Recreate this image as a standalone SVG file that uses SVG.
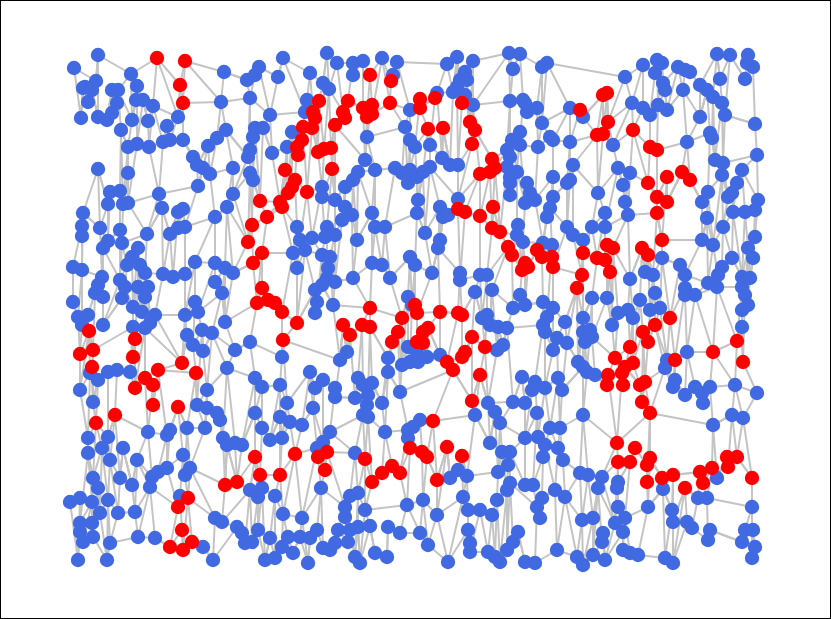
<svg xmlns="http://www.w3.org/2000/svg" width="831" height="619" viewBox="0 0 831 619">
<style>
.e{fill:none;stroke:#c4c4c4;stroke-width:2;stroke-linejoin:round}
circle{r:7.2px}
.b circle{fill:#4169e1}
.r circle{fill:#ff0000}
</style>
<rect x="0.5" y="0.5" width="830" height="618" fill="#fff" stroke="#000"/>
<g id="edges">
<path class="e" d="M74 68 81 118 83 88 85 87 88 102 92 90 96 81 98 55 98 117 107 120 112 90 112 113 117 103 118 90 131 74 132 120 136 100 137 86 143 100 148 121 153 106 157 58 178 117 180 85 183 103 185 61 221 102 224 72 247 80 250 98 255 75 259 67 270 115 278 77 283 58 305 112 307 100 310 73 313 112 315 118 319 101 323 83 327 53 329 89 337 63 343 112 345 118 348 101 353 63 353 75 363 61 363 108 367 117 370 75 372 105 372 114 382 58 390 103 391 81 393 75 397 62 410 110 420 99 420 108 435 98 437 93 447 64 453 92 457 57 457 87 460 80 462 103 465 72 465 95 467 80 470 122 473 61 473 105 509 53 510 101 513 69 520 54 523 100 525 103 527 112 537 108 542 67 542 123 547 63 570 108 580 110 583 117 603 95 607 93 608 122 625 77 632 103 643 65 643 108 650 115 655 73 657 60 658 105 662 63 663 83 665 90 667 110 678 67 683 90 685 70 690 72 700 85 700 117 707 90 713 97 717 54 720 79 722 103 725 115 730 55 745 79 747 63 748 55 753 67 755 124"/>
<path class="e" d="M81 118 83 88 85 87 88 102 92 90 98 117 107 120 112 90 112 113 117 103 118 90 121 130 128 147 132 120 136 100 137 86 137 144 143 100 148 121 149 147 153 106 163 142 167 126 170 140 178 117 183 103 183 140 193 157 197 165 208 146 217 138 221 102 226 130 248 157 250 98 250 150 253 137 255 128 263 128 270 115 272 153 287 147 292 132 297 147 298 155 302 140 303 127 305 112 307 100 312 128 313 112 315 118 318 152 319 101 324 149 329 89 331 148 335 125 343 112 345 118 348 101 363 108 365 160 367 117 367 137 372 105 372 114 390 103 405 127 410 110 410 140 415 147 420 99 420 108 428 129 430 145 435 98 437 93 442 158 443 128 450 165 453 92 457 87 458 165 462 103 465 95 470 122 472 144 473 105 475 130 492 159 507 150 510 101 510 157 512 140 520 132 520 145 523 100 525 103 527 112 537 108 538 147 542 123 550 137 553 140 570 108 570 142 580 110 583 117 597 135 603 95 603 134 607 93 608 122 613 145 632 103 633 130 643 108 650 115 650 147 657 150 658 105 665 90 667 110 683 90 687 142 700 117 707 90 710 133 712 138 713 97 715 160 722 103 723 163 725 115 755 124 757 155"/>
<path class="e" d="M98 169 108 204 110 192 120 191 121 130 123 204 128 147 128 173 128 203 137 144 149 147 159 194 163 142 167 126 170 140 183 140 193 157 197 165 198 186 203 168 208 146 210 174 217 138 226 130 233 168 233 194 248 157 250 150 250 173 253 137 253 180 255 128 260 201 263 128 272 153 280 202 285 170 287 147 288 193 292 132 292 187 295 180 297 147 298 155 302 140 303 127 307 192 312 128 318 152 322 187 322 197 324 149 331 148 332 169 335 125 335 200 345 187 353 180 358 172 365 160 367 137 375 170 395 168 402 173 405 127 408 183 410 140 410 170 415 147 417 177 418 200 423 172 428 129 430 145 430 167 442 158 443 128 450 165 458 165 458 199 472 144 475 130 480 174 490 172 492 159 495 168 507 150 507 167 510 157 510 177 510 183 510 195 512 140 517 172 520 132 520 145 525 203 527 183 530 193 535 200 538 147 550 137 553 140 553 177 553 197 567 183 570 142 570 180 573 165 597 135 598 193 603 134 613 145 618 168 623 185 625 202 630 173 633 130 648 183 650 147 657 150 657 197 667 177 667 202 682 172 687 142 690 180 702 202 708 192 710 133 712 138 715 160 722 175 723 163 728 197 732 193 737 183 742 170 757 155 758 200"/>
<path class="e" d="M82 226 82 236 83 213 98 169 100 228 108 204 108 241 110 192 120 191 120 230 122 243 123 204 128 173 128 203 147 234 159 194 162 208 170 234 178 212 178 228 183 209 185 227 198 186 203 168 210 174 215 217 227 207 233 168 233 194 248 242 250 173 252 225 253 180 260 201 267 217 280 202 282 207 285 170 288 193 292 187 295 180 297 227 300 240 307 192 312 238 322 187 322 197 325 237 327 227 332 169 335 200 335 235 342 220 345 187 345 207 352 215 353 180 357 240 358 172 372 213 375 170 375 227 385 227 395 168 402 173 408 183 410 170 417 177 417 213 418 200 423 172 425 233 430 167 440 207 440 240 443 217 448 215 458 199 458 209 465 212 480 174 480 216 490 172 492 228 493 207 495 168 500 232 507 167 510 177 510 183 510 195 517 172 517 235 518 225 523 242 525 203 527 183 530 193 535 200 543 243 547 217 550 208 553 177 553 197 567 183 567 227 570 180 573 165 573 235 583 240 592 227 598 193 605 213 605 227 618 168 623 185 625 202 628 215 630 173 648 183 657 197 657 213 662 240 667 177 667 202 682 172 690 180 702 202 702 240 707 218 708 192 713 245 722 175 723 227 728 197 732 193 733 212 737 183 742 170 745 212 755 210 755 237 758 200"/>
<path class="e" d="M73 267 82 226 82 236 82 270 83 213 100 228 102 277 103 248 108 241 120 230 120 280 122 243 127 265 132 257 138 248 140 265 145 273 147 234 162 208 163 274 170 234 173 277 178 212 178 228 183 209 185 227 185 274 195 262 215 217 215 263 215 282 225 268 227 207 233 273 248 242 252 225 253 263 262 253 267 217 282 207 293 253 297 227 297 268 300 240 305 250 312 238 322 255 325 237 327 227 327 278 328 268 330 257 335 235 335 282 342 220 345 207 352 215 353 278 357 240 372 213 372 263 375 227 382 265 385 227 390 278 410 257 415 265 417 213 425 233 432 273 438 248 440 207 440 240 443 217 448 215 458 209 460 273 460 280 465 212 480 216 480 275 487 275 492 228 493 207 500 232 508 247 512 255 517 235 518 225 522 270 523 242 525 263 528 267 537 250 542 257 543 243 547 217 550 208 552 245 552 257 553 267 567 227 573 235 582 275 583 240 583 253 592 227 597 258 605 213 605 227 605 260 607 245 610 272 613 248 628 215 630 279 642 248 645 272 648 255 653 275 657 213 662 240 662 258 680 265 685 275 702 240 707 218 708 283 713 245 718 275 722 267 723 227 732 258 733 212 742 277 745 212 748 248 750 278 753 258 755 210 755 237"/>
<path class="e" d="M73 267 73 302 78 317 82 270 82 325 88 315 95 293 98 285 102 277 103 248 103 297 103 325 120 280 122 298 125 287 127 265 132 257 133 307 138 248 138 287 140 265 142 312 145 273 145 297 148 287 150 323 155 315 163 274 173 277 185 274 185 315 195 262 195 302 198 312 215 263 215 282 222 293 225 268 225 322 233 273 253 263 257 303 262 253 262 288 268 300 275 303 282 312 293 253 297 268 297 323 305 250 315 290 315 313 317 302 322 255 322 285 327 278 328 268 330 257 333 305 335 282 353 278 370 308 372 263 382 265 390 278 402 318 408 297 410 257 412 305 415 265 415 305 417 313 432 273 438 248 440 312 458 313 460 273 460 280 462 315 475 292 480 275 482 318 487 275 487 315 490 325 492 290 508 247 512 255 513 308 520 295 522 270 525 263 525 305 528 267 537 250 542 257 543 302 547 317 552 245 552 257 553 267 553 308 565 322 577 288 582 275 583 253 583 318 592 298 597 258 605 260 607 245 607 298 610 272 612 325 613 248 618 313 628 310 630 279 633 318 640 300 642 248 645 272 648 255 650 310 653 275 655 293 660 308 662 258 670 318 680 265 685 275 685 288 685 295 695 295 708 283 717 287 718 275 722 267 732 258 742 277 742 287 742 310 745 295 748 248 748 305 750 278 753 258"/>
<path class="e" d="M73 302 78 317 80 354 82 325 88 315 89 331 93 350 95 293 98 285 103 297 103 325 122 298 125 287 133 307 133 327 133 357 135 339 138 287 142 312 145 297 145 328 148 287 150 323 155 315 182 363 185 315 187 335 193 345 195 302 198 312 202 330 203 351 212 333 222 293 225 322 235 350 250 342 257 303 262 288 268 300 275 303 282 312 282 357 283 340 297 323 315 290 315 313 317 302 322 285 333 305 340 360 343 325 347 352 350 335 362 325 370 308 370 327 388 358 392 342 398 332 402 318 402 365 408 297 408 347 410 362 412 305 415 305 417 313 417 342 417 353 418 362 423 332 423 343 427 357 428 328 440 312 440 355 447 362 458 313 462 315 462 357 465 352 472 337 475 292 482 318 485 347 487 315 490 325 492 290 497 350 498 327 503 345 507 328 513 308 520 295 525 305 543 302 543 325 545 332 547 317 553 308 553 350 557 338 565 322 567 343 577 288 578 362 583 318 583 332 585 342 590 330 592 298 592 337 607 298 612 325 615 358 618 313 628 310 630 347 633 318 633 363 640 300 643 332 648 342 650 310 655 293 655 325 660 308 667 360 670 318 675 360 685 288 685 295 687 352 695 295 713 352 717 287 737 341 742 287 742 310 742 327 743 362 745 295 748 305"/>
<path class="e" d="M80 354 80 390 89 331 90 373 92 367 93 350 93 402 98 380 108 372 117 370 130 372 133 327 133 357 135 339 135 388 145 328 145 378 153 385 153 405 158 370 182 363 187 335 193 345 196 373 197 405 202 330 203 351 207 390 212 333 227 368 235 350 250 342 255 378 262 387 280 385 282 357 283 340 287 403 310 372 315 388 323 380 335 388 335 397 340 360 343 325 347 352 350 335 355 398 358 378 362 325 363 385 367 405 368 395 370 327 372 383 382 403 388 358 388 372 392 342 398 332 400 392 402 365 408 347 410 362 417 342 417 353 418 362 423 332 423 343 427 357 428 328 440 355 447 362 453 370 462 357 465 352 472 337 472 401 480 375 485 347 488 403 497 350 498 327 503 345 507 328 513 402 522 377 525 403 532 390 535 382 543 325 545 332 545 388 553 350 557 338 558 378 562 390 567 343 578 362 583 332 583 367 585 342 587 372 590 330 592 337 595 375 607 385 608 375 615 358 622 373 623 385 625 367 630 347 633 363 640 385 642 402 643 332 645 382 648 342 655 325 665 368 667 360 673 387 675 360 675 380 685 395 687 352 695 387 702 393 703 403 710 387 713 352 735 385 737 341 742 327 743 362 757 393"/>
<path class="e" d="M80 390 88 438 90 373 92 367 93 402 96 423 98 380 108 372 108 437 115 415 117 370 130 372 135 388 145 378 148 432 153 385 153 405 158 370 167 435 170 430 178 407 187 428 196 373 197 405 205 428 207 390 207 408 217 413 220 420 223 438 227 368 235 443 242 445 255 378 255 413 262 387 262 428 270 440 280 385 280 417 282 438 287 403 290 422 302 425 310 372 313 408 315 388 323 380 323 442 330 432 335 388 335 397 355 398 358 378 363 385 363 415 367 405 368 395 368 417 372 383 382 403 385 432 388 372 400 392 408 430 408 438 413 427 420 420 433 421 453 370 472 401 475 415 480 375 488 403 490 443 495 412 500 423 513 402 522 377 525 403 525 438 532 390 535 382 537 413 538 437 545 388 550 428 558 378 560 428 562 390 583 367 583 415 587 372 595 375 607 385 608 375 617 443 622 373 623 385 625 367 640 385 642 402 645 382 650 413 665 368 673 387 675 380 685 395 695 387 702 393 703 403 710 387 713 425 732 415 735 385 743 418 757 393"/>
<path class="e" d="M88 438 88 453 93 478 96 423 102 448 108 437 110 460 115 415 120 478 123 448 132 485 137 460 148 432 152 477 158 472 167 435 167 468 170 430 178 407 183 455 185 475 187 428 190 468 205 428 207 408 217 413 220 420 223 438 225 485 227 445 235 443 237 482 242 445 255 413 255 457 260 475 262 428 270 440 280 417 280 475 282 438 290 422 295 454 302 425 313 408 317 448 318 457 323 442 325 470 327 452 330 432 355 453 363 415 365 459 368 417 372 482 382 473 385 432 392 466 400 473 408 430 408 438 410 448 413 427 420 420 422 452 427 457 433 421 437 480 447 447 450 478 458 470 462 456 467 476 475 415 490 443 495 412 498 472 500 423 502 452 508 465 510 452 525 438 525 485 533 485 537 413 538 437 543 457 545 445 550 428 558 448 560 428 563 460 580 473 583 415 588 475 602 477 617 443 618 462 618 482 630 462 635 448 647 465 647 482 650 413 650 458 662 478 673 475 700 472 703 483 712 468 713 425 717 478 727 457 728 467 732 415 737 457 743 418 752 478"/>
<path class="e" d="M70 502 80 498 80 523 88 453 92 502 92 523 93 478 98 488 100 513 102 448 108 500 110 460 118 513 120 478 123 448 132 485 135 512 137 460 150 487 152 477 158 472 167 468 178 507 180 496 183 455 185 475 188 498 190 468 215 518 222 522 225 485 227 445 237 482 250 490 255 457 258 497 260 475 262 488 275 496 280 475 283 514 295 454 302 518 317 448 318 457 321 488 325 470 327 452 345 507 345 517 350 496 355 453 358 493 365 459 365 510 372 482 382 473 392 466 400 473 407 505 410 448 422 452 423 500 427 457 437 480 437 515 447 447 450 478 458 470 462 456 463 497 467 476 468 510 480 510 492 515 497 500 498 472 502 452 507 490 508 465 510 452 510 483 525 485 533 485 537 507 540 518 542 498 543 457 545 445 555 490 558 448 563 460 565 497 580 473 582 520 588 475 593 518 598 488 602 477 615 523 617 488 618 462 618 482 618 507 625 518 630 462 635 448 647 465 647 482 648 507 650 458 662 478 663 489 672 510 673 475 673 522 685 488 698 498 700 472 703 483 707 498 712 468 717 478 727 457 728 467 737 457 752 478 752 507"/>
<path class="e" d="M70 502 78 560 80 498 80 523 80 532 83 542 92 502 92 523 93 537 98 488 100 513 107 560 108 500 110 543 118 513 135 512 138 537 150 487 155 538 170 547 178 507 180 496 182 530 183 550 188 498 192 542 203 547 213 560 215 518 222 522 237 527 242 533 245 543 250 490 252 542 258 497 258 530 262 488 265 560 270 538 275 496 275 558 282 547 283 514 288 537 293 553 300 537 302 518 308 563 310 538 317 530 321 488 323 548 330 550 335 543 338 530 345 507 345 517 348 542 350 496 350 530 355 557 358 493 358 527 360 563 365 510 370 526 375 553 387 557 388 527 400 533 407 505 420 533 423 500 428 545 437 515 448 562 463 497 468 510 468 530 470 543 470 552 480 510 488 552 492 515 495 557 497 500 500 562 507 490 507 550 510 483 513 542 518 532 525 562 535 563 537 507 540 518 542 498 555 490 557 550 565 497 577 557 582 520 583 565 593 518 593 555 598 488 602 542 603 533 605 560 615 523 617 488 618 507 623 532 623 550 625 518 630 553 638 555 648 507 663 489 665 558 672 510 673 522 673 563 685 488 687 522 692 528 698 498 707 498 708 540 710 530 742 542 745 530 752 507 752 558 753 530 755 547"/>
<path class="e" d="M74 68 96 81 98 55 131 74 157 58 180 85 185 61 224 72 247 80 255 75 259 67 278 77 283 58 310 73 323 83 327 53 337 63 353 63 353 75 363 61 370 75 382 58 391 81 393 75 397 62 447 64 457 57 460 80 465 72 467 80 473 61 509 53 513 69 520 54 542 67 547 63 625 77 643 65 655 73 657 60 662 63 663 83 678 67 685 70 690 72 700 85 717 54 720 79 730 55 745 79 747 63 748 55 753 67"/>
<path class="e" d="M81 118 83 88 85 87 88 102 92 90 98 117 107 120 112 90 112 113 117 103 118 90 132 120 136 100 137 86 143 100 148 121 153 106 178 117 183 103 221 102 250 98 270 115 305 112 307 100 313 112 315 118 319 101 329 89 343 112 345 118 348 101 363 108 367 117 372 105 372 114 390 103 410 110 420 99 420 108 435 98 437 93 453 92 457 87 462 103 465 95 470 122 473 105 510 101 523 100 525 103 527 112 537 108 542 123 570 108 580 110 583 117 603 95 607 93 608 122 632 103 643 108 650 115 658 105 665 90 667 110 683 90 700 117 707 90 713 97 722 103 725 115 755 124"/>
<path class="e" d="M121 130 128 147 137 144 149 147 163 142 167 126 170 140 183 140 193 157 197 165 208 146 217 138 226 130 248 157 250 150 253 137 255 128 263 128 272 153 287 147 292 132 297 147 298 155 302 140 303 127 312 128 318 152 324 149 331 148 335 125 365 160 367 137 405 127 410 140 415 147 428 129 430 145 442 158 443 128 450 165 458 165 472 144 475 130 492 159 507 150 510 157 512 140 520 132 520 145 538 147 550 137 553 140 570 142 597 135 603 134 613 145 633 130 650 147 657 150 687 142 710 133 712 138 715 160 723 163 757 155"/>
<path class="e" d="M98 169 108 204 110 192 120 191 123 204 128 173 128 203 159 194 198 186 203 168 210 174 233 168 233 194 250 173 253 180 260 201 280 202 285 170 288 193 292 187 295 180 307 192 322 187 322 197 332 169 335 200 345 187 353 180 358 172 375 170 395 168 402 173 408 183 410 170 417 177 418 200 423 172 430 167 458 199 480 174 490 172 495 168 507 167 510 177 510 183 510 195 517 172 525 203 527 183 530 193 535 200 553 177 553 197 567 183 570 180 573 165 598 193 618 168 623 185 625 202 630 173 648 183 657 197 667 177 667 202 682 172 690 180 702 202 708 192 722 175 728 197 732 193 737 183 742 170 758 200"/>
<path class="e" d="M82 226 82 236 83 213 100 228 108 241 120 230 122 243 147 234 162 208 170 234 178 212 178 228 183 209 185 227 215 217 227 207 248 242 252 225 267 217 282 207 297 227 300 240 312 238 325 237 327 227 335 235 342 220 345 207 352 215 357 240 372 213 375 227 385 227 417 213 425 233 440 207 440 240 443 217 448 215 458 209 465 212 480 216 492 228 493 207 500 232 517 235 518 225 523 242 543 243 547 217 550 208 567 227 573 235 583 240 592 227 605 213 605 227 628 215 657 213 662 240 702 240 707 218 713 245 723 227 733 212 745 212 755 210 755 237"/>
<path class="e" d="M73 267 82 270 102 277 103 248 120 280 127 265 132 257 138 248 140 265 145 273 163 274 173 277 185 274 195 262 215 263 215 282 225 268 233 273 253 263 262 253 293 253 297 268 305 250 322 255 327 278 328 268 330 257 335 282 353 278 372 263 382 265 390 278 410 257 415 265 432 273 438 248 460 273 460 280 480 275 487 275 508 247 512 255 522 270 525 263 528 267 537 250 542 257 552 245 552 257 553 267 582 275 583 253 597 258 605 260 607 245 610 272 613 248 630 279 642 248 645 272 648 255 653 275 662 258 680 265 685 275 708 283 718 275 722 267 732 258 742 277 748 248 750 278 753 258"/>
<path class="e" d="M73 302 78 317 82 325 88 315 95 293 98 285 103 297 103 325 122 298 125 287 133 307 138 287 142 312 145 297 148 287 150 323 155 315 185 315 195 302 198 312 222 293 225 322 257 303 262 288 268 300 275 303 282 312 297 323 315 290 315 313 317 302 322 285 333 305 370 308 402 318 408 297 412 305 415 305 417 313 440 312 458 313 462 315 475 292 482 318 487 315 490 325 492 290 513 308 520 295 525 305 543 302 547 317 553 308 565 322 577 288 583 318 592 298 607 298 612 325 618 313 628 310 633 318 640 300 650 310 655 293 660 308 670 318 685 288 685 295 695 295 717 287 742 287 742 310 745 295 748 305"/>
<path class="e" d="M80 354 89 331 93 350 133 327 133 357 135 339 145 328 182 363 187 335 193 345 202 330 203 351 212 333 235 350 250 342 282 357 283 340 340 360 343 325 347 352 350 335 362 325 370 327 388 358 392 342 398 332 402 365 408 347 410 362 417 342 417 353 418 362 423 332 423 343 427 357 428 328 440 355 447 362 462 357 465 352 472 337 485 347 497 350 498 327 503 345 507 328 543 325 545 332 553 350 557 338 567 343 578 362 583 332 585 342 590 330 592 337 615 358 630 347 633 363 643 332 648 342 655 325 667 360 675 360 687 352 713 352 737 341 742 327 743 362"/>
<path class="e" d="M80 390 90 373 92 367 93 402 98 380 108 372 117 370 130 372 135 388 145 378 153 385 153 405 158 370 196 373 197 405 207 390 227 368 255 378 262 387 280 385 287 403 310 372 315 388 323 380 335 388 335 397 355 398 358 378 363 385 367 405 368 395 372 383 382 403 388 372 400 392 453 370 472 401 480 375 488 403 513 402 522 377 525 403 532 390 535 382 545 388 558 378 562 390 583 367 587 372 595 375 607 385 608 375 622 373 623 385 625 367 640 385 642 402 645 382 665 368 673 387 675 380 685 395 695 387 702 393 703 403 710 387 735 385 757 393"/>
<path class="e" d="M88 438 96 423 108 437 115 415 148 432 167 435 170 430 178 407 187 428 205 428 207 408 217 413 220 420 223 438 235 443 242 445 255 413 262 428 270 440 280 417 282 438 290 422 302 425 313 408 323 442 330 432 363 415 368 417 385 432 408 430 408 438 413 427 420 420 433 421 475 415 490 443 495 412 500 423 525 438 537 413 538 437 550 428 560 428 583 415 617 443 650 413 713 425 732 415 743 418"/>
<path class="e" d="M88 453 93 478 102 448 110 460 120 478 123 448 132 485 137 460 152 477 158 472 167 468 183 455 185 475 190 468 225 485 227 445 237 482 255 457 260 475 280 475 295 454 317 448 318 457 325 470 327 452 355 453 365 459 372 482 382 473 392 466 400 473 410 448 422 452 427 457 437 480 447 447 450 478 458 470 462 456 467 476 498 472 502 452 508 465 510 452 525 485 533 485 543 457 545 445 558 448 563 460 580 473 588 475 602 477 618 462 618 482 630 462 635 448 647 465 647 482 650 458 662 478 673 475 700 472 703 483 712 468 717 478 727 457 728 467 737 457 752 478"/>
<path class="e" d="M70 502 80 498 80 523 92 502 92 523 98 488 100 513 108 500 118 513 135 512 150 487 178 507 180 496 188 498 215 518 222 522 250 490 258 497 262 488 275 496 283 514 302 518 321 488 345 507 345 517 350 496 358 493 365 510 407 505 423 500 437 515 463 497 468 510 480 510 492 515 497 500 507 490 510 483 537 507 540 518 542 498 555 490 565 497 582 520 593 518 598 488 615 523 617 488 618 507 625 518 648 507 663 489 672 510 673 522 685 488 698 498 707 498 752 507"/>
<path class="e" d="M78 560 80 532 83 542 93 537 107 560 110 543 138 537 155 538 170 547 182 530 183 550 192 542 203 547 213 560 237 527 242 533 245 543 252 542 258 530 265 560 270 538 275 558 282 547 288 537 293 553 300 537 308 563 310 538 317 530 323 548 330 550 335 543 338 530 348 542 350 530 355 557 358 527 360 563 370 526 375 553 387 557 388 527 400 533 420 533 428 545 448 562 468 530 470 543 470 552 488 552 495 557 500 562 507 550 513 542 518 532 525 562 535 563 557 550 577 557 583 565 593 555 602 542 603 533 605 560 623 532 623 550 630 553 638 555 665 558 673 563 687 522 692 528 708 540 710 530 742 542 745 530 752 558 753 530 755 547"/>
</g>
<g id="nodes-blue" class="b">
<circle cx="74" cy="68"/><circle cx="96" cy="81"/><circle cx="98" cy="55"/><circle cx="131" cy="74"/><circle cx="224" cy="72"/><circle cx="247" cy="80"/><circle cx="255" cy="75"/><circle cx="259" cy="67"/><circle cx="278" cy="77"/><circle cx="283" cy="58"/><circle cx="310" cy="73"/><circle cx="323" cy="83"/><circle cx="327" cy="53"/><circle cx="337" cy="63"/><circle cx="353" cy="63"/><circle cx="353" cy="75"/><circle cx="363" cy="61"/><circle cx="382" cy="58"/><circle cx="393" cy="75"/><circle cx="397" cy="62"/><circle cx="447" cy="64"/><circle cx="457" cy="57"/><circle cx="460" cy="80"/><circle cx="465" cy="72"/><circle cx="467" cy="80"/><circle cx="473" cy="61"/><circle cx="509" cy="53"/><circle cx="513" cy="69"/><circle cx="520" cy="54"/><circle cx="542" cy="67"/><circle cx="547" cy="63"/><circle cx="625" cy="77"/><circle cx="643" cy="65"/><circle cx="655" cy="73"/><circle cx="657" cy="60"/><circle cx="662" cy="63"/><circle cx="663" cy="83"/><circle cx="678" cy="67"/><circle cx="685" cy="70"/><circle cx="690" cy="72"/><circle cx="700" cy="85"/><circle cx="717" cy="54"/><circle cx="720" cy="79"/><circle cx="730" cy="55"/><circle cx="745" cy="79"/><circle cx="747" cy="63"/><circle cx="748" cy="55"/><circle cx="753" cy="67"/>
<circle cx="81" cy="118"/><circle cx="83" cy="88"/><circle cx="85" cy="87"/><circle cx="88" cy="102"/><circle cx="92" cy="90"/><circle cx="98" cy="117"/><circle cx="107" cy="120"/><circle cx="112" cy="90"/><circle cx="112" cy="113"/><circle cx="117" cy="103"/><circle cx="118" cy="90"/><circle cx="132" cy="120"/><circle cx="136" cy="100"/><circle cx="137" cy="86"/><circle cx="143" cy="100"/><circle cx="148" cy="121"/><circle cx="153" cy="106"/><circle cx="178" cy="117"/><circle cx="221" cy="102"/><circle cx="250" cy="98"/><circle cx="270" cy="115"/><circle cx="305" cy="112"/><circle cx="307" cy="100"/><circle cx="329" cy="89"/><circle cx="410" cy="110"/><circle cx="437" cy="93"/><circle cx="453" cy="92"/><circle cx="457" cy="87"/><circle cx="465" cy="95"/><circle cx="473" cy="105"/><circle cx="510" cy="101"/><circle cx="523" cy="100"/><circle cx="525" cy="103"/><circle cx="527" cy="112"/><circle cx="537" cy="108"/><circle cx="542" cy="123"/><circle cx="570" cy="108"/><circle cx="583" cy="117"/><circle cx="632" cy="103"/><circle cx="643" cy="108"/><circle cx="650" cy="115"/><circle cx="658" cy="105"/><circle cx="665" cy="90"/><circle cx="667" cy="110"/><circle cx="683" cy="90"/><circle cx="700" cy="117"/><circle cx="707" cy="90"/><circle cx="713" cy="97"/><circle cx="722" cy="103"/><circle cx="725" cy="115"/><circle cx="755" cy="124"/>
<circle cx="121" cy="130"/><circle cx="128" cy="147"/><circle cx="137" cy="144"/><circle cx="149" cy="147"/><circle cx="163" cy="142"/><circle cx="167" cy="126"/><circle cx="170" cy="140"/><circle cx="183" cy="140"/><circle cx="193" cy="157"/><circle cx="197" cy="165"/><circle cx="208" cy="146"/><circle cx="217" cy="138"/><circle cx="226" cy="130"/><circle cx="248" cy="157"/><circle cx="250" cy="150"/><circle cx="253" cy="137"/><circle cx="255" cy="128"/><circle cx="263" cy="128"/><circle cx="272" cy="153"/><circle cx="287" cy="147"/><circle cx="292" cy="132"/><circle cx="365" cy="160"/><circle cx="367" cy="137"/><circle cx="405" cy="127"/><circle cx="410" cy="140"/><circle cx="415" cy="147"/><circle cx="430" cy="145"/><circle cx="442" cy="158"/><circle cx="450" cy="165"/><circle cx="458" cy="165"/><circle cx="507" cy="150"/><circle cx="510" cy="157"/><circle cx="512" cy="140"/><circle cx="520" cy="132"/><circle cx="520" cy="145"/><circle cx="538" cy="147"/><circle cx="550" cy="137"/><circle cx="553" cy="140"/><circle cx="570" cy="142"/><circle cx="613" cy="145"/><circle cx="687" cy="142"/><circle cx="710" cy="133"/><circle cx="712" cy="138"/><circle cx="715" cy="160"/><circle cx="723" cy="163"/><circle cx="757" cy="155"/>
<circle cx="98" cy="169"/><circle cx="108" cy="204"/><circle cx="110" cy="192"/><circle cx="120" cy="191"/><circle cx="123" cy="204"/><circle cx="128" cy="173"/><circle cx="128" cy="203"/><circle cx="159" cy="194"/><circle cx="198" cy="186"/><circle cx="203" cy="168"/><circle cx="210" cy="174"/><circle cx="233" cy="168"/><circle cx="233" cy="194"/><circle cx="250" cy="173"/><circle cx="253" cy="180"/><circle cx="322" cy="187"/><circle cx="322" cy="197"/><circle cx="335" cy="200"/><circle cx="345" cy="187"/><circle cx="353" cy="180"/><circle cx="358" cy="172"/><circle cx="375" cy="170"/><circle cx="395" cy="168"/><circle cx="402" cy="173"/><circle cx="408" cy="183"/><circle cx="410" cy="170"/><circle cx="417" cy="177"/><circle cx="418" cy="200"/><circle cx="423" cy="172"/><circle cx="430" cy="167"/><circle cx="458" cy="199"/><circle cx="507" cy="167"/><circle cx="510" cy="177"/><circle cx="510" cy="183"/><circle cx="510" cy="195"/><circle cx="517" cy="172"/><circle cx="525" cy="203"/><circle cx="527" cy="183"/><circle cx="530" cy="193"/><circle cx="535" cy="200"/><circle cx="553" cy="177"/><circle cx="553" cy="197"/><circle cx="567" cy="183"/><circle cx="570" cy="180"/><circle cx="573" cy="165"/><circle cx="598" cy="193"/><circle cx="618" cy="168"/><circle cx="623" cy="185"/><circle cx="625" cy="202"/><circle cx="630" cy="173"/><circle cx="702" cy="202"/><circle cx="708" cy="192"/><circle cx="722" cy="175"/><circle cx="728" cy="197"/><circle cx="732" cy="193"/><circle cx="737" cy="183"/><circle cx="742" cy="170"/><circle cx="758" cy="200"/>
<circle cx="82" cy="226"/><circle cx="82" cy="236"/><circle cx="83" cy="213"/><circle cx="100" cy="228"/><circle cx="108" cy="241"/><circle cx="120" cy="230"/><circle cx="122" cy="243"/><circle cx="147" cy="234"/><circle cx="162" cy="208"/><circle cx="170" cy="234"/><circle cx="178" cy="212"/><circle cx="178" cy="228"/><circle cx="183" cy="209"/><circle cx="185" cy="227"/><circle cx="215" cy="217"/><circle cx="227" cy="207"/><circle cx="297" cy="227"/><circle cx="300" cy="240"/><circle cx="312" cy="238"/><circle cx="325" cy="237"/><circle cx="327" cy="227"/><circle cx="335" cy="235"/><circle cx="342" cy="220"/><circle cx="345" cy="207"/><circle cx="352" cy="215"/><circle cx="357" cy="240"/><circle cx="372" cy="213"/><circle cx="375" cy="227"/><circle cx="385" cy="227"/><circle cx="417" cy="213"/><circle cx="425" cy="233"/><circle cx="440" cy="207"/><circle cx="440" cy="240"/><circle cx="443" cy="217"/><circle cx="448" cy="215"/><circle cx="517" cy="235"/><circle cx="518" cy="225"/><circle cx="523" cy="242"/><circle cx="543" cy="243"/><circle cx="547" cy="217"/><circle cx="550" cy="208"/><circle cx="567" cy="227"/><circle cx="573" cy="235"/><circle cx="583" cy="240"/><circle cx="592" cy="227"/><circle cx="605" cy="213"/><circle cx="605" cy="227"/><circle cx="628" cy="215"/><circle cx="702" cy="240"/><circle cx="707" cy="218"/><circle cx="713" cy="245"/><circle cx="723" cy="227"/><circle cx="733" cy="212"/><circle cx="745" cy="212"/><circle cx="755" cy="210"/><circle cx="755" cy="237"/>
<circle cx="73" cy="267"/><circle cx="82" cy="270"/><circle cx="102" cy="277"/><circle cx="103" cy="248"/><circle cx="120" cy="280"/><circle cx="127" cy="265"/><circle cx="132" cy="257"/><circle cx="138" cy="248"/><circle cx="140" cy="265"/><circle cx="145" cy="273"/><circle cx="163" cy="274"/><circle cx="173" cy="277"/><circle cx="185" cy="274"/><circle cx="195" cy="262"/><circle cx="215" cy="263"/><circle cx="215" cy="282"/><circle cx="225" cy="268"/><circle cx="233" cy="273"/><circle cx="293" cy="253"/><circle cx="297" cy="268"/><circle cx="305" cy="250"/><circle cx="322" cy="255"/><circle cx="327" cy="278"/><circle cx="328" cy="268"/><circle cx="330" cy="257"/><circle cx="335" cy="282"/><circle cx="353" cy="278"/><circle cx="372" cy="263"/><circle cx="382" cy="265"/><circle cx="390" cy="278"/><circle cx="410" cy="257"/><circle cx="415" cy="265"/><circle cx="432" cy="273"/><circle cx="438" cy="248"/><circle cx="460" cy="273"/><circle cx="460" cy="280"/><circle cx="480" cy="275"/><circle cx="487" cy="275"/><circle cx="552" cy="245"/><circle cx="630" cy="279"/><circle cx="645" cy="272"/><circle cx="653" cy="275"/><circle cx="662" cy="258"/><circle cx="680" cy="265"/><circle cx="685" cy="275"/><circle cx="708" cy="283"/><circle cx="718" cy="275"/><circle cx="722" cy="267"/><circle cx="732" cy="258"/><circle cx="742" cy="277"/><circle cx="748" cy="248"/><circle cx="750" cy="278"/><circle cx="753" cy="258"/>
<circle cx="73" cy="302"/><circle cx="78" cy="317"/><circle cx="82" cy="325"/><circle cx="88" cy="315"/><circle cx="95" cy="293"/><circle cx="98" cy="285"/><circle cx="103" cy="297"/><circle cx="103" cy="325"/><circle cx="122" cy="298"/><circle cx="125" cy="287"/><circle cx="133" cy="307"/><circle cx="138" cy="287"/><circle cx="142" cy="312"/><circle cx="145" cy="297"/><circle cx="148" cy="287"/><circle cx="150" cy="323"/><circle cx="155" cy="315"/><circle cx="185" cy="315"/><circle cx="195" cy="302"/><circle cx="198" cy="312"/><circle cx="222" cy="293"/><circle cx="225" cy="322"/><circle cx="315" cy="290"/><circle cx="315" cy="313"/><circle cx="317" cy="302"/><circle cx="322" cy="285"/><circle cx="333" cy="305"/><circle cx="408" cy="297"/><circle cx="412" cy="305"/><circle cx="475" cy="292"/><circle cx="482" cy="318"/><circle cx="487" cy="315"/><circle cx="490" cy="325"/><circle cx="492" cy="290"/><circle cx="513" cy="308"/><circle cx="520" cy="295"/><circle cx="525" cy="305"/><circle cx="543" cy="302"/><circle cx="547" cy="317"/><circle cx="553" cy="308"/><circle cx="565" cy="322"/><circle cx="583" cy="318"/><circle cx="592" cy="298"/><circle cx="607" cy="298"/><circle cx="612" cy="325"/><circle cx="618" cy="313"/><circle cx="628" cy="310"/><circle cx="633" cy="318"/><circle cx="640" cy="300"/><circle cx="650" cy="310"/><circle cx="655" cy="293"/><circle cx="660" cy="308"/><circle cx="685" cy="288"/><circle cx="685" cy="295"/><circle cx="695" cy="295"/><circle cx="717" cy="287"/><circle cx="742" cy="287"/><circle cx="742" cy="310"/><circle cx="745" cy="295"/><circle cx="748" cy="305"/>
<circle cx="133" cy="327"/><circle cx="145" cy="328"/><circle cx="187" cy="335"/><circle cx="193" cy="345"/><circle cx="202" cy="330"/><circle cx="203" cy="351"/><circle cx="212" cy="333"/><circle cx="235" cy="350"/><circle cx="250" cy="342"/><circle cx="282" cy="357"/><circle cx="340" cy="360"/><circle cx="347" cy="352"/><circle cx="388" cy="358"/><circle cx="402" cy="365"/><circle cx="408" cy="347"/><circle cx="410" cy="362"/><circle cx="417" cy="353"/><circle cx="418" cy="362"/><circle cx="427" cy="357"/><circle cx="440" cy="355"/><circle cx="497" cy="350"/><circle cx="498" cy="327"/><circle cx="503" cy="345"/><circle cx="507" cy="328"/><circle cx="543" cy="325"/><circle cx="545" cy="332"/><circle cx="553" cy="350"/><circle cx="557" cy="338"/><circle cx="567" cy="343"/><circle cx="578" cy="362"/><circle cx="583" cy="332"/><circle cx="585" cy="342"/><circle cx="590" cy="330"/><circle cx="592" cy="337"/><circle cx="667" cy="360"/><circle cx="687" cy="352"/><circle cx="742" cy="327"/>
<circle cx="80" cy="390"/><circle cx="90" cy="373"/><circle cx="93" cy="402"/><circle cx="98" cy="380"/><circle cx="108" cy="372"/><circle cx="117" cy="370"/><circle cx="130" cy="372"/><circle cx="197" cy="405"/><circle cx="207" cy="390"/><circle cx="227" cy="368"/><circle cx="255" cy="378"/><circle cx="262" cy="387"/><circle cx="280" cy="385"/><circle cx="287" cy="403"/><circle cx="310" cy="372"/><circle cx="315" cy="388"/><circle cx="323" cy="380"/><circle cx="335" cy="388"/><circle cx="335" cy="397"/><circle cx="355" cy="398"/><circle cx="358" cy="378"/><circle cx="363" cy="385"/><circle cx="367" cy="405"/><circle cx="368" cy="395"/><circle cx="372" cy="383"/><circle cx="382" cy="403"/><circle cx="388" cy="372"/><circle cx="400" cy="392"/><circle cx="488" cy="403"/><circle cx="513" cy="402"/><circle cx="522" cy="377"/><circle cx="525" cy="403"/><circle cx="532" cy="390"/><circle cx="535" cy="382"/><circle cx="545" cy="388"/><circle cx="558" cy="378"/><circle cx="562" cy="390"/><circle cx="583" cy="367"/><circle cx="587" cy="372"/><circle cx="595" cy="375"/><circle cx="665" cy="368"/><circle cx="673" cy="387"/><circle cx="675" cy="380"/><circle cx="685" cy="395"/><circle cx="695" cy="387"/><circle cx="702" cy="393"/><circle cx="703" cy="403"/><circle cx="710" cy="387"/><circle cx="735" cy="385"/><circle cx="757" cy="393"/>
<circle cx="88" cy="438"/><circle cx="108" cy="437"/><circle cx="148" cy="432"/><circle cx="167" cy="435"/><circle cx="170" cy="430"/><circle cx="187" cy="428"/><circle cx="205" cy="428"/><circle cx="207" cy="408"/><circle cx="217" cy="413"/><circle cx="220" cy="420"/><circle cx="223" cy="438"/><circle cx="235" cy="443"/><circle cx="242" cy="445"/><circle cx="255" cy="413"/><circle cx="262" cy="428"/><circle cx="270" cy="440"/><circle cx="280" cy="417"/><circle cx="282" cy="438"/><circle cx="290" cy="422"/><circle cx="302" cy="425"/><circle cx="313" cy="408"/><circle cx="323" cy="442"/><circle cx="330" cy="432"/><circle cx="363" cy="415"/><circle cx="368" cy="417"/><circle cx="385" cy="432"/><circle cx="408" cy="430"/><circle cx="408" cy="438"/><circle cx="413" cy="427"/><circle cx="420" cy="420"/><circle cx="475" cy="415"/><circle cx="490" cy="443"/><circle cx="495" cy="412"/><circle cx="500" cy="423"/><circle cx="525" cy="438"/><circle cx="537" cy="413"/><circle cx="538" cy="437"/><circle cx="550" cy="428"/><circle cx="560" cy="428"/><circle cx="583" cy="415"/><circle cx="713" cy="425"/><circle cx="732" cy="415"/><circle cx="743" cy="418"/>
<circle cx="88" cy="453"/><circle cx="93" cy="478"/><circle cx="102" cy="448"/><circle cx="110" cy="460"/><circle cx="120" cy="478"/><circle cx="123" cy="448"/><circle cx="132" cy="485"/><circle cx="137" cy="460"/><circle cx="152" cy="477"/><circle cx="158" cy="472"/><circle cx="167" cy="468"/><circle cx="183" cy="455"/><circle cx="185" cy="475"/><circle cx="190" cy="468"/><circle cx="227" cy="445"/><circle cx="317" cy="448"/><circle cx="355" cy="453"/><circle cx="450" cy="478"/><circle cx="458" cy="470"/><circle cx="467" cy="476"/><circle cx="498" cy="472"/><circle cx="502" cy="452"/><circle cx="508" cy="465"/><circle cx="510" cy="452"/><circle cx="525" cy="485"/><circle cx="533" cy="485"/><circle cx="543" cy="457"/><circle cx="545" cy="445"/><circle cx="558" cy="448"/><circle cx="563" cy="460"/><circle cx="580" cy="473"/><circle cx="588" cy="475"/><circle cx="602" cy="477"/><circle cx="618" cy="482"/><circle cx="717" cy="478"/>
<circle cx="70" cy="502"/><circle cx="80" cy="498"/><circle cx="80" cy="523"/><circle cx="92" cy="502"/><circle cx="92" cy="523"/><circle cx="98" cy="488"/><circle cx="100" cy="513"/><circle cx="108" cy="500"/><circle cx="118" cy="513"/><circle cx="135" cy="512"/><circle cx="150" cy="487"/><circle cx="180" cy="496"/><circle cx="215" cy="518"/><circle cx="222" cy="522"/><circle cx="250" cy="490"/><circle cx="258" cy="497"/><circle cx="262" cy="488"/><circle cx="275" cy="496"/><circle cx="283" cy="514"/><circle cx="302" cy="518"/><circle cx="321" cy="488"/><circle cx="345" cy="507"/><circle cx="345" cy="517"/><circle cx="350" cy="496"/><circle cx="358" cy="493"/><circle cx="365" cy="510"/><circle cx="407" cy="505"/><circle cx="423" cy="500"/><circle cx="437" cy="515"/><circle cx="463" cy="497"/><circle cx="468" cy="510"/><circle cx="480" cy="510"/><circle cx="492" cy="515"/><circle cx="497" cy="500"/><circle cx="507" cy="490"/><circle cx="510" cy="483"/><circle cx="537" cy="507"/><circle cx="540" cy="518"/><circle cx="542" cy="498"/><circle cx="555" cy="490"/><circle cx="565" cy="497"/><circle cx="582" cy="520"/><circle cx="593" cy="518"/><circle cx="598" cy="488"/><circle cx="615" cy="523"/><circle cx="617" cy="488"/><circle cx="618" cy="507"/><circle cx="625" cy="518"/><circle cx="648" cy="507"/><circle cx="663" cy="489"/><circle cx="672" cy="510"/><circle cx="673" cy="522"/><circle cx="698" cy="498"/><circle cx="707" cy="498"/><circle cx="752" cy="507"/>
<circle cx="78" cy="560"/><circle cx="80" cy="532"/><circle cx="83" cy="542"/><circle cx="93" cy="537"/><circle cx="107" cy="560"/><circle cx="110" cy="543"/><circle cx="138" cy="537"/><circle cx="155" cy="538"/><circle cx="203" cy="547"/><circle cx="213" cy="560"/><circle cx="237" cy="527"/><circle cx="242" cy="533"/><circle cx="245" cy="543"/><circle cx="252" cy="542"/><circle cx="258" cy="530"/><circle cx="265" cy="560"/><circle cx="270" cy="538"/><circle cx="275" cy="558"/><circle cx="282" cy="547"/><circle cx="288" cy="537"/><circle cx="293" cy="553"/><circle cx="300" cy="537"/><circle cx="308" cy="563"/><circle cx="310" cy="538"/><circle cx="317" cy="530"/><circle cx="323" cy="548"/><circle cx="330" cy="550"/><circle cx="335" cy="543"/><circle cx="338" cy="530"/><circle cx="348" cy="542"/><circle cx="350" cy="530"/><circle cx="355" cy="557"/><circle cx="358" cy="527"/><circle cx="360" cy="563"/><circle cx="370" cy="526"/><circle cx="375" cy="553"/><circle cx="387" cy="557"/><circle cx="388" cy="527"/><circle cx="400" cy="533"/><circle cx="420" cy="533"/><circle cx="428" cy="545"/><circle cx="448" cy="562"/><circle cx="468" cy="530"/><circle cx="470" cy="543"/><circle cx="470" cy="552"/><circle cx="488" cy="552"/><circle cx="495" cy="557"/><circle cx="500" cy="562"/><circle cx="507" cy="550"/><circle cx="513" cy="542"/><circle cx="518" cy="532"/><circle cx="525" cy="562"/><circle cx="535" cy="563"/><circle cx="557" cy="550"/><circle cx="577" cy="557"/><circle cx="583" cy="565"/><circle cx="593" cy="555"/><circle cx="602" cy="542"/><circle cx="603" cy="533"/><circle cx="605" cy="560"/><circle cx="623" cy="532"/><circle cx="623" cy="550"/><circle cx="630" cy="553"/><circle cx="638" cy="555"/><circle cx="665" cy="558"/><circle cx="673" cy="563"/><circle cx="687" cy="522"/><circle cx="692" cy="528"/><circle cx="708" cy="540"/><circle cx="710" cy="530"/><circle cx="742" cy="542"/><circle cx="745" cy="530"/><circle cx="752" cy="558"/><circle cx="753" cy="530"/><circle cx="755" cy="547"/>
</g>
<g id="nodes-red" class="r">
<circle cx="157" cy="58"/><circle cx="180" cy="85"/><circle cx="185" cy="61"/><circle cx="370" cy="75"/><circle cx="391" cy="81"/>
<circle cx="183" cy="103"/><circle cx="313" cy="112"/><circle cx="315" cy="118"/><circle cx="319" cy="101"/><circle cx="343" cy="112"/><circle cx="345" cy="118"/><circle cx="348" cy="101"/><circle cx="363" cy="108"/><circle cx="367" cy="117"/><circle cx="372" cy="105"/><circle cx="372" cy="114"/><circle cx="390" cy="103"/><circle cx="420" cy="99"/><circle cx="420" cy="108"/><circle cx="435" cy="98"/><circle cx="462" cy="103"/><circle cx="470" cy="122"/><circle cx="580" cy="110"/><circle cx="603" cy="95"/><circle cx="607" cy="93"/><circle cx="608" cy="122"/>
<circle cx="297" cy="147"/><circle cx="298" cy="155"/><circle cx="302" cy="140"/><circle cx="303" cy="127"/><circle cx="312" cy="128"/><circle cx="318" cy="152"/><circle cx="324" cy="149"/><circle cx="331" cy="148"/><circle cx="335" cy="125"/><circle cx="428" cy="129"/><circle cx="443" cy="128"/><circle cx="472" cy="144"/><circle cx="475" cy="130"/><circle cx="492" cy="159"/><circle cx="597" cy="135"/><circle cx="603" cy="134"/><circle cx="633" cy="130"/><circle cx="650" cy="147"/><circle cx="657" cy="150"/>
<circle cx="260" cy="201"/><circle cx="280" cy="202"/><circle cx="285" cy="170"/><circle cx="288" cy="193"/><circle cx="292" cy="187"/><circle cx="295" cy="180"/><circle cx="307" cy="192"/><circle cx="332" cy="169"/><circle cx="480" cy="174"/><circle cx="490" cy="172"/><circle cx="495" cy="168"/><circle cx="648" cy="183"/><circle cx="657" cy="197"/><circle cx="667" cy="177"/><circle cx="667" cy="202"/><circle cx="682" cy="172"/><circle cx="690" cy="180"/>
<circle cx="248" cy="242"/><circle cx="252" cy="225"/><circle cx="267" cy="217"/><circle cx="282" cy="207"/><circle cx="458" cy="209"/><circle cx="465" cy="212"/><circle cx="480" cy="216"/><circle cx="492" cy="228"/><circle cx="493" cy="207"/><circle cx="500" cy="232"/><circle cx="657" cy="213"/><circle cx="662" cy="240"/>
<circle cx="253" cy="263"/><circle cx="262" cy="253"/><circle cx="508" cy="247"/><circle cx="512" cy="255"/><circle cx="522" cy="270"/><circle cx="525" cy="263"/><circle cx="528" cy="267"/><circle cx="537" cy="250"/><circle cx="542" cy="257"/><circle cx="552" cy="257"/><circle cx="553" cy="267"/><circle cx="582" cy="275"/><circle cx="583" cy="253"/><circle cx="597" cy="258"/><circle cx="605" cy="260"/><circle cx="607" cy="245"/><circle cx="610" cy="272"/><circle cx="613" cy="248"/><circle cx="642" cy="248"/><circle cx="648" cy="255"/>
<circle cx="257" cy="303"/><circle cx="262" cy="288"/><circle cx="268" cy="300"/><circle cx="275" cy="303"/><circle cx="282" cy="312"/><circle cx="297" cy="323"/><circle cx="370" cy="308"/><circle cx="402" cy="318"/><circle cx="415" cy="305"/><circle cx="417" cy="313"/><circle cx="440" cy="312"/><circle cx="458" cy="313"/><circle cx="462" cy="315"/><circle cx="577" cy="288"/><circle cx="670" cy="318"/>
<circle cx="80" cy="354"/><circle cx="89" cy="331"/><circle cx="93" cy="350"/><circle cx="133" cy="357"/><circle cx="135" cy="339"/><circle cx="182" cy="363"/><circle cx="283" cy="340"/><circle cx="343" cy="325"/><circle cx="350" cy="335"/><circle cx="362" cy="325"/><circle cx="370" cy="327"/><circle cx="392" cy="342"/><circle cx="398" cy="332"/><circle cx="417" cy="342"/><circle cx="423" cy="332"/><circle cx="423" cy="343"/><circle cx="428" cy="328"/><circle cx="447" cy="362"/><circle cx="462" cy="357"/><circle cx="465" cy="352"/><circle cx="472" cy="337"/><circle cx="485" cy="347"/><circle cx="615" cy="358"/><circle cx="630" cy="347"/><circle cx="633" cy="363"/><circle cx="643" cy="332"/><circle cx="648" cy="342"/><circle cx="655" cy="325"/><circle cx="675" cy="360"/><circle cx="713" cy="352"/><circle cx="737" cy="341"/><circle cx="743" cy="362"/>
<circle cx="92" cy="367"/><circle cx="135" cy="388"/><circle cx="145" cy="378"/><circle cx="153" cy="385"/><circle cx="153" cy="405"/><circle cx="158" cy="370"/><circle cx="196" cy="373"/><circle cx="453" cy="370"/><circle cx="472" cy="401"/><circle cx="480" cy="375"/><circle cx="607" cy="385"/><circle cx="608" cy="375"/><circle cx="622" cy="373"/><circle cx="623" cy="385"/><circle cx="625" cy="367"/><circle cx="640" cy="385"/><circle cx="642" cy="402"/><circle cx="645" cy="382"/>
<circle cx="96" cy="423"/><circle cx="115" cy="415"/><circle cx="178" cy="407"/><circle cx="433" cy="421"/><circle cx="617" cy="443"/><circle cx="650" cy="413"/>
<circle cx="225" cy="485"/><circle cx="237" cy="482"/><circle cx="255" cy="457"/><circle cx="260" cy="475"/><circle cx="280" cy="475"/><circle cx="295" cy="454"/><circle cx="318" cy="457"/><circle cx="325" cy="470"/><circle cx="327" cy="452"/><circle cx="365" cy="459"/><circle cx="372" cy="482"/><circle cx="382" cy="473"/><circle cx="392" cy="466"/><circle cx="400" cy="473"/><circle cx="410" cy="448"/><circle cx="422" cy="452"/><circle cx="427" cy="457"/><circle cx="437" cy="480"/><circle cx="447" cy="447"/><circle cx="462" cy="456"/><circle cx="618" cy="462"/><circle cx="630" cy="462"/><circle cx="635" cy="448"/><circle cx="647" cy="465"/><circle cx="647" cy="482"/><circle cx="650" cy="458"/><circle cx="662" cy="478"/><circle cx="673" cy="475"/><circle cx="700" cy="472"/><circle cx="703" cy="483"/><circle cx="712" cy="468"/><circle cx="727" cy="457"/><circle cx="728" cy="467"/><circle cx="737" cy="457"/><circle cx="752" cy="478"/>
<circle cx="178" cy="507"/><circle cx="188" cy="498"/><circle cx="685" cy="488"/>
<circle cx="170" cy="547"/><circle cx="182" cy="530"/><circle cx="183" cy="550"/><circle cx="192" cy="542"/>
</g>
</svg>
